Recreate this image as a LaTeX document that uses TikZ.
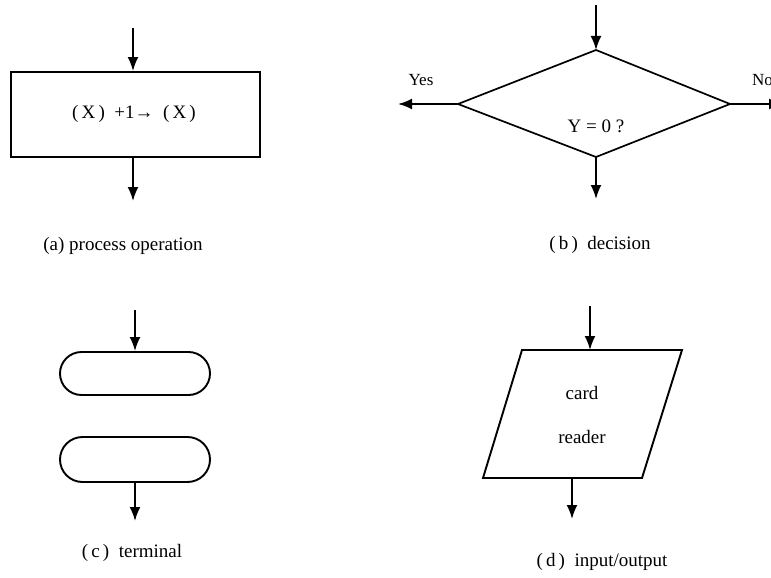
\documentclass[tikz,border=0pt]{standalone}
\usepackage{fontspec}
\setmainfont{Liberation Serif}
\usetikzlibrary{arrows.meta,shapes.geometric}
\begin{document}
\begin{tikzpicture}[x=1pt,y=-1pt,
  box/.style={draw,line width=1.9pt,inner sep=0pt},
  flow/.style={line width=1.9pt,-{Latex[length=14pt,width=11pt]}},
  lbl/.style={font=\fontsize{19}{22}\selectfont,inner sep=0pt},
  captext/.style={font=\fontsize{19}{22}\selectfont,inner sep=0pt}]
\useasboundingbox (0,0) rectangle (771,578);
% (a) process
\node[box,minimum width=249pt,minimum height=85pt] (proc) at (135.5,114.5) {};
\node[lbl] (proctext) at (134,114) {(\,X\,)\enspace+1→\enspace(\,X\,)};
\coordinate (ain) at (133,28);
\coordinate (aout) at (133,201);
\draw[flow] (ain) -- (ain |- proc.north);
\draw[flow] (aout |- proc.south) -- (aout);
\node[captext] (capa) at (123,246) {(a) process operation};
% (b) decision
\coordinate (dt) at (596,50);
\coordinate (dl) at (458,104);
\coordinate (dr) at (730,104);
\coordinate (db) at (596,157);
\draw[line width=1.7pt,line join=miter] (dt) -- (dr) -- (db) -- (dl) -- cycle;
\node[lbl] (dtext) at (596,126) {Y = 0 ?};
\coordinate (bin) at (596,5);
\coordinate (bout) at (596,199);
\coordinate (byes) at (398,104);
\coordinate (bno) at (783,104);
\draw[flow] (bin) -- (dt);
\draw[flow] (db) -- (bout);
\draw[flow] (dl) -- (byes);
\draw[flow] (dr) -- (bno);
\node[lbl,font=\fontsize{17}{20}\selectfont] (yes) at (421,80) {Yes};
\node[lbl,font=\fontsize{17}{20}\selectfont,anchor=west] (no) at (752,80) {No};
\node[captext] (capb) at (600,245) {(\,b\,)\enspace decision};
% (c) terminal
\node[box,minimum width=150pt,minimum height=43pt,rounded corners=21.5pt] (t1) at (135,373.5) {};
\node[box,minimum width=150pt,minimum height=45pt,rounded corners=22.5pt] (t2) at (135,459.5) {};
\coordinate (cin) at (135,310);
\coordinate (cout) at (135,521);
\draw[flow] (cin) -- (t1.north);
\draw[flow] (t2.south) -- (cout);
\node[captext] (capc) at (132,553) {(\,c\,)\enspace terminal};
% (d) input/output
\coordinate (ptl) at (522,350);
\coordinate (ptr) at (682,350);
\coordinate (pbr) at (642,478);
\coordinate (pbl) at (483,478);
\draw[line width=1.9pt] (ptl) -- (ptr) -- (pbr) -- (pbl) -- cycle;
\coordinate (ptop) at (590,350);
\coordinate (pbot) at (572,478);
\coordinate (din) at (590,306);
\coordinate (dout) at (572,519);
\draw[flow] (din) -- (ptop);
\draw[flow] (pbot) -- (dout);
\node[lbl] (card) at (582,393) {card};
\node[lbl] (reader) at (582,437) {reader};
\node[captext] (capd) at (602,562) {(\,d\,)\enspace input/output};
\end{tikzpicture}
\end{document}
